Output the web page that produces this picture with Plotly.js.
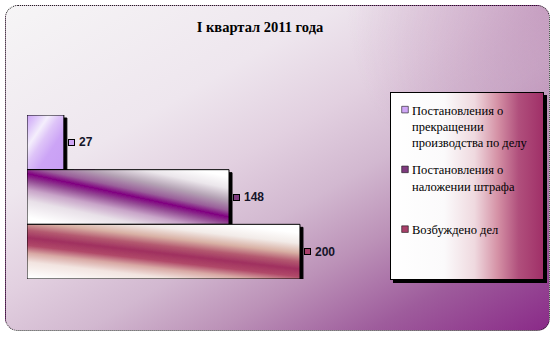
<!DOCTYPE html>
<html>
<head>
<meta charset="utf-8">
<script src="https://cdn.plot.ly/plotly-3.0.1.min.js"></script>
<style>
  html, body { margin:0; padding:0; background:#ffffff; }
  #wrap { position:relative; width:557px; height:338px; overflow:hidden; background:#ffffff; }
  #bgbox { position:absolute; left:5px; top:5px; width:543px; height:324px; border:1.5px dotted #222222; border-radius:13px;
    background:
      radial-gradient(circle at 100% 0%, rgba(180,125,172,0.55), rgba(180,125,172,0) 32%),
      linear-gradient(150deg, #f6f5f6 0%, #eee6ee 30%, #e2d0e0 45%, #d2b8d0 58%, #bc92b8 70%, #9e5c9c 84%, #8a2a88 100%); }
  #legbox { position:absolute; left:390px; top:92px; width:152px; height:186px; border:1px solid #000; box-shadow:3px 3px 0 #000;
    background: linear-gradient(to right, #ffffff 0%, #fbfafb 35%, #efd9df 55%, #d592a6 70%, #b04f7c 84%, #a03068 100%); }
  #chart { position:absolute; left:0; top:0; width:557px; height:338px; }
</style>
</head>
<body>
<div id="wrap">
  <div id="bgbox"></div>
  <div id="legbox"></div>
  <div id="chart"></div>
</div>
<svg width="0" height="0" style="position:absolute;left:0;top:0">
  <defs>
    <linearGradient id="bg0" x1="0" y1="0" x2="1" y2="1">
      <stop offset="0" stop-color="#cca2f6"/>
      <stop offset="0.15" stop-color="#dec6fa"/>
      <stop offset="0.3" stop-color="#f4eefc"/>
      <stop offset="0.45" stop-color="#dec4f8"/>
      <stop offset="0.65" stop-color="#cca4f6"/>
      <stop offset="1" stop-color="#c89ef4"/>
    </linearGradient>
    <linearGradient id="bg1" x1="0.125" y1="0.97" x2="0.875" y2="0.03">
      <stop offset="0" stop-color="#ffffff"/>
      <stop offset="0.2" stop-color="#e8e0e8"/>
      <stop offset="0.33" stop-color="#c8a4c8"/>
      <stop offset="0.44" stop-color="#944a94"/>
      <stop offset="0.52" stop-color="#800080"/>
      <stop offset="0.6" stop-color="#9a609a"/>
      <stop offset="0.72" stop-color="#b4a2b4"/>
      <stop offset="0.86" stop-color="#ebe6eb"/>
      <stop offset="1" stop-color="#ffffff"/>
    </linearGradient>
    <linearGradient id="bg2" x1="0.2" y1="1.08" x2="0.8" y2="0.04">
      <stop offset="0" stop-color="#ffffff"/>
      <stop offset="0.2" stop-color="#f2e4e0"/>
      <stop offset="0.32" stop-color="#d8a8a4"/>
      <stop offset="0.42" stop-color="#b04868"/>
      <stop offset="0.52" stop-color="#a03060"/>
      <stop offset="0.62" stop-color="#b45a70"/>
      <stop offset="0.73" stop-color="#d8b0a4"/>
      <stop offset="0.86" stop-color="#f2ebe8"/>
      <stop offset="1" stop-color="#ffffff"/>
    </linearGradient>
    <filter id="shadow" x="-20%" y="-20%" width="160%" height="160%">
      <feFlood flood-color="#000000" flood-opacity="1" result="f"/>
      <feComposite in="f" in2="SourceAlpha" operator="in" result="s"/>
      <feOffset in="s" dx="3" dy="3" result="o"/>
      <feMerge>
        <feMergeNode in="o"/>
        <feMergeNode in="SourceGraphic"/>
      </feMerge>
    </filter>
  </defs>
</svg>
<script>
// ---- data ----
const chartTitle = 'I квартал 2011 года';
const categories = ['Постановления о прекращении производства по делу', 'Постановления о наложении штрафа', 'Возбуждено дел'];
const legendLabels = ['Постановления о<br>прекращении<br>производства по делу', 'Постановления о<br>наложении штрафа<br>&nbsp;', 'Возбуждено дел'];
const values = [27, 148, 200];
const seriesColors = ['#cfa6f6', '#7e3a7e', '#a8406a'];

const traces = values.map((v, i) => ({
  type: 'bar',
  orientation: 'h',
  x: [v],
  y: [categories[i]],
  name: legendLabels[i],
  legendgroup: 'g' + i,
  marker: { color: seriesColors[i], line: { color: '#000000', width: 1 } },
  cliponaxis: false,
  hoverinfo: 'skip'
}));

const annotations = [];
values.forEach((v, i) => {
  annotations.push({
    x: v, y: categories[i], xref: 'x', yref: 'y',
    text: ' ', showarrow: false, xanchor: 'left', yanchor: 'middle', xshift: 4,
    width: 5, height: 5, bgcolor: seriesColors[i], bordercolor: '#000000', borderwidth: 1, borderpad: 0,
    font: { size: 4 }
  });
  annotations.push({
    x: v, y: categories[i], xref: 'x', yref: 'y',
    text: String(v), showarrow: false, xanchor: 'left', yanchor: 'middle', xshift: 13,
    font: { family: 'Liberation Sans, Arial, sans-serif', size: 12, color: '#141428', weight: 'bold' }
  });
});

const layout = {
  width: 557, height: 338,
  paper_bgcolor: 'rgba(0,0,0,0)', plot_bgcolor: 'rgba(0,0,0,0)',
  margin: { l: 27, r: 227, t: 115, b: 59, pad: 0 },
  barmode: 'overlay', bargap: 0,
  title: {
    text: chartTitle, xref: 'container', yref: 'container', x: 260 / 557, y: 1 - 27 / 338,
    xanchor: 'center', yanchor: 'middle',
    font: { family: 'Liberation Serif, Times New Roman, serif', size: 14.5, color: '#000000', weight: 'bold' }
  },
  xaxis: { range: [0, 222], visible: false, fixedrange: true },
  yaxis: { type: 'category', categoryorder: 'array', categoryarray: categories, autorange: 'reversed', visible: false, fixedrange: true },
  showlegend: true,
  legend: {
    xref: 'container', yref: 'container', x: 372 / 557, y: 1 - 95 / 338, xanchor: 'left', yanchor: 'top',
    bgcolor: 'rgba(0,0,0,0)', borderwidth: 0,
    font: { family: 'Liberation Serif, Times New Roman, serif', size: 12.5, color: '#000000' },
    traceorder: 'grouped', tracegroupgap: 8, valign: 'top'
  },
  annotations: annotations
};

Plotly.newPlot('chart', traces, layout, { displayModeBar: false, staticPlot: true }).then(() => {
  document.querySelectorAll('#chart .barlayer .trace').forEach((tr, i) => {
    tr.querySelectorAll('.point path').forEach(p => {
      p.style.fill = 'url(#bg' + i + ')';
      p.setAttribute('filter', 'url(#shadow)');
    });
  });
  document.querySelectorAll('#chart .legend .traces').forEach(tr => {
    tr.querySelectorAll('.legendpoints path').forEach(p => {
      p.setAttribute('transform', 'translate(33,0) scale(0.55)');
    });
  });
});
</script>
</body>
</html>
